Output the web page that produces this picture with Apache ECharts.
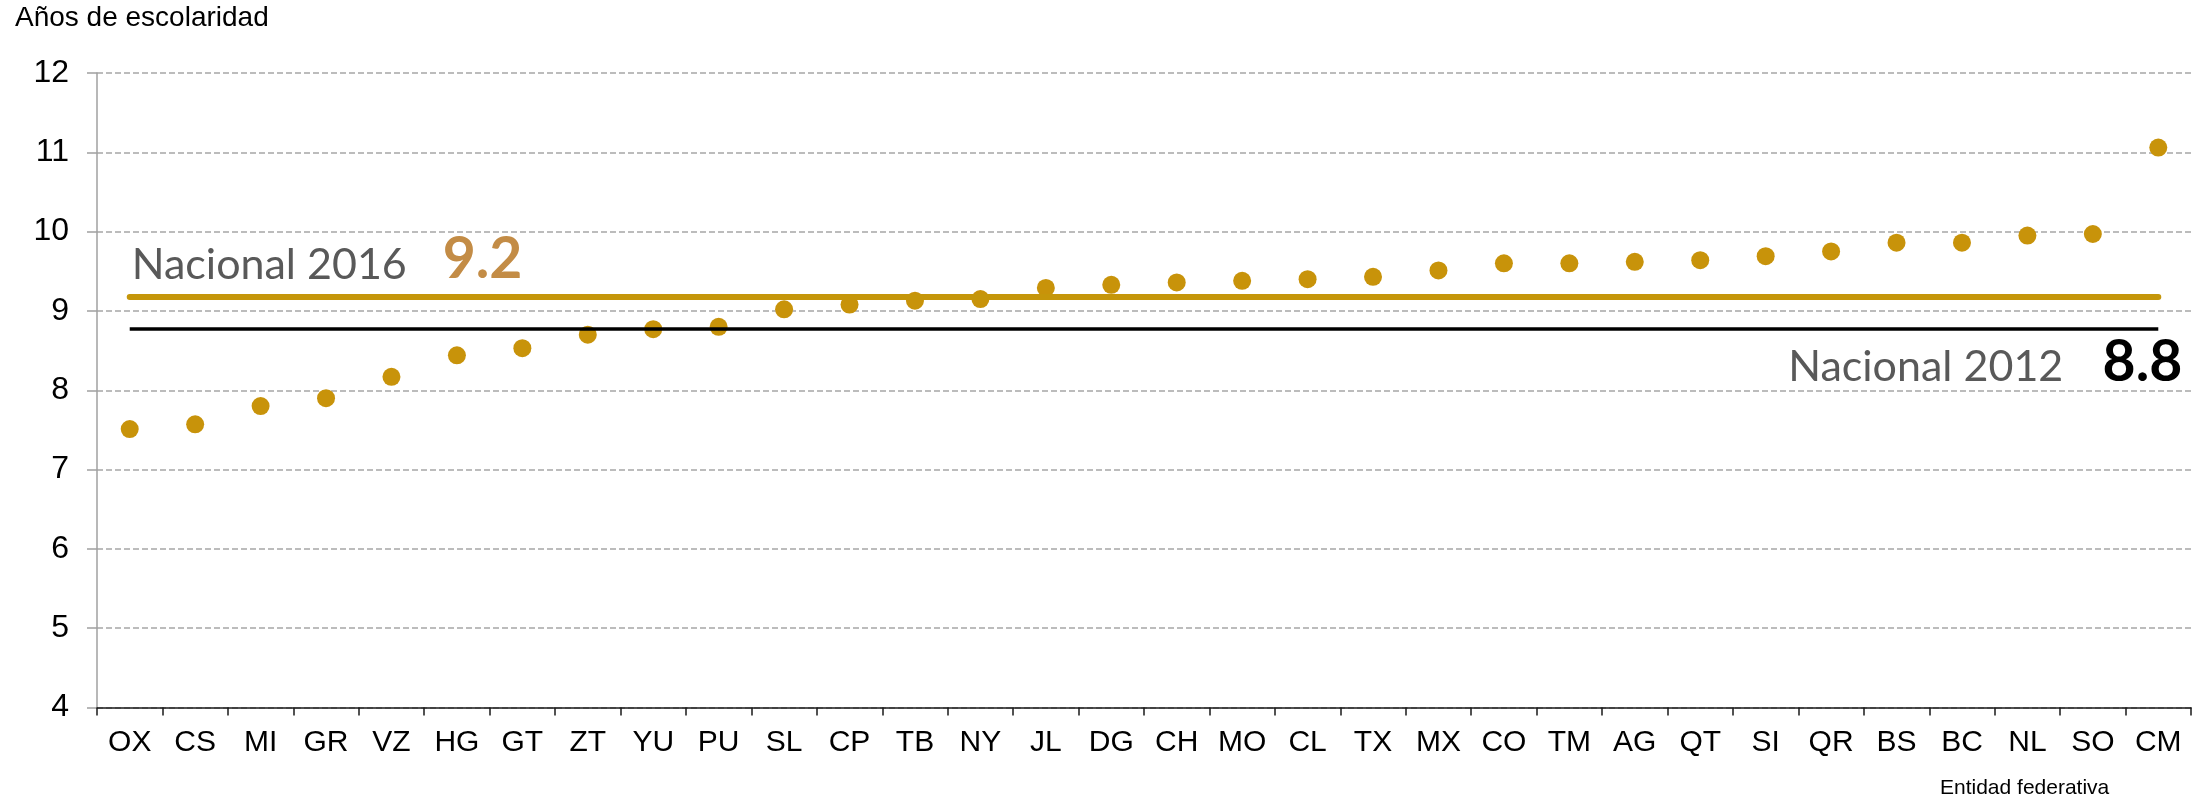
<!DOCTYPE html>
<html>
<head>
<meta charset="utf-8">
<title>Años de escolaridad</title>
<script src="https://cdn.jsdelivr.net/npm/echarts@6/dist/echarts.min.js"></script>
<style>
  html, body { margin: 0; padding: 0; background: #ffffff; }
  #main { width: 2201px; height: 798px; }
</style>
</head>
<body>
<div id="main"></div>
<script>
// entidades ordenadas de menor a mayor
const entidades = ['OX', 'CS', 'MI', 'GR', 'VZ', 'HG', 'GT', 'ZT', 'YU', 'PU', 'SL', 'CP', 'TB', 'NY', 'JL', 'DG',
  'CH', 'MO', 'CL', 'TX', 'MX', 'CO', 'TM', 'AG', 'QT', 'SI', 'QR', 'BS', 'BC', 'NL', 'SO', 'CM'];
const escolaridad = [7.51, 7.57, 7.80, 7.90, 8.17, 8.44, 8.53, 8.70, 8.77, 8.80, 9.02, 9.08, 9.13, 9.15, 9.29, 9.33,
  9.36, 9.38, 9.40, 9.43, 9.51, 9.60, 9.60, 9.62, 9.64, 9.69, 9.75, 9.86, 9.86, 9.95, 9.97, 11.06];
const yTicks = [4, 5, 6, 7, 8, 9, 10, 11, 12];
// promedio nacional: posicion de la linea y texto del valor
const nacional2016 = 9.18;
const nacional2012 = 8.77;
const etiquetas = ['Nacional 2016', '9.2', 'Nacional 2012', '8.8'];

const chart = echarts.init(document.getElementById('main'));

const option = {
  animation: false,
  backgroundColor: '#ffffff',
  grid: {left: 97, right: 10, top: 73, bottom: 90.5},
  xAxis: {
    type: 'category',
    data: entidades,
    axisLine: {lineStyle: {color: '#1a1a1a', width: 1.5}},
    axisTick: {show: true, length: 8, lineStyle: {color: '#1a1a1a', width: 1.5}},
    axisLabel: {
      color: '#000000',
      fontFamily: 'Liberation Sans, Arial, sans-serif',
      fontSize: 30,
      margin: 20
    },
    splitLine: {show: false}
  },
  yAxis: {
    type: 'value',
    min: yTicks[0],
    max: yTicks[yTicks.length - 1],
    interval: 1,
    axisLine: {show: true, lineStyle: {color: '#a0a0a0', width: 1.5}},
    axisTick: {show: true, length: 10, lineStyle: {color: '#a0a0a0', width: 1.5}},
    axisLabel: {
      color: '#000000',
      fontFamily: 'Liberation Sans, Arial, sans-serif',
      fontSize: 32,
      margin: 28
    },
    splitLine: {lineStyle: {color: '#a6a6a6', width: 1.5, type: [6, 3]}}
  },
  series: [
    {
      // lineas del promedio nacional
      type: 'line',
      data: [],
      z: 1,
      markLine: {
        silent: true,
        symbol: 'none',
        label: {show: false},
        data: [
          [
            {coord: [entidades[0], nacional2016], lineStyle: {color: '#c5960a', width: 6, cap: 'round', type: 'solid'}},
            {coord: [entidades[entidades.length - 1], nacional2016]}
          ],
          [
            {coord: [entidades[0], nacional2012], lineStyle: {color: '#000000', width: 3.5, type: 'solid'}},
            {coord: [entidades[entidades.length - 1], nacional2012]}
          ]
        ]
      }
    },
    {
      type: 'scatter',
      data: escolaridad,
      z: 3,
      symbol: 'circle',
      symbolSize: 18,
      itemStyle: {color: '#c8930a', opacity: 1}
    }
  ]
};

chart.setOption(option);

// textos fijos y etiquetas de los promedios, ubicados con la escala del grafico
const p16 = chart.convertToPixel({gridIndex: 0}, [entidades[0], nacional2016]);
const p12 = chart.convertToPixel({gridIndex: 0}, [entidades[entidades.length - 1], nacional2012]);

chart.setOption({
  graphic: [
    {
      type: 'text', left: 15, top: 4,
      style: {text: 'Años de escolaridad', fill: '#000', font: '28px "Liberation Sans", Arial, sans-serif'}
    },
    {
      type: 'text', x: 1940, y: 788,
      style: {text: 'Entidad federativa', fill: '#000', font: '21px "Liberation Sans", Arial, sans-serif', verticalAlign: 'middle'}
    },
    {
      type: 'text', x: p16[0] + 2, y: p16[1] - 32,
      style: {text: etiquetas[0], fill: '#595959', font: '43px Lato, sans-serif', verticalAlign: 'middle'}
    },
    {
      type: 'text', x: p16[0] + 313, y: p16[1] - 37,
      style: {text: etiquetas[1], fill: '#c38c46', font: 'bold 57px Lato, sans-serif', verticalAlign: 'middle'}
    },
    {
      type: 'text', x: p12[0] - 95, y: p12[1] + 38,
      style: {text: etiquetas[2], fill: '#595959', font: '43px Lato, sans-serif', verticalAlign: 'middle', align: 'right'}
    },
    {
      type: 'text', x: p12[0] + 24, y: p12[1] + 33,
      style: {text: etiquetas[3], fill: '#000000', font: 'bold 57px Lato, sans-serif', verticalAlign: 'middle', align: 'right'}
    }
  ]
});
</script>
</body>
</html>
